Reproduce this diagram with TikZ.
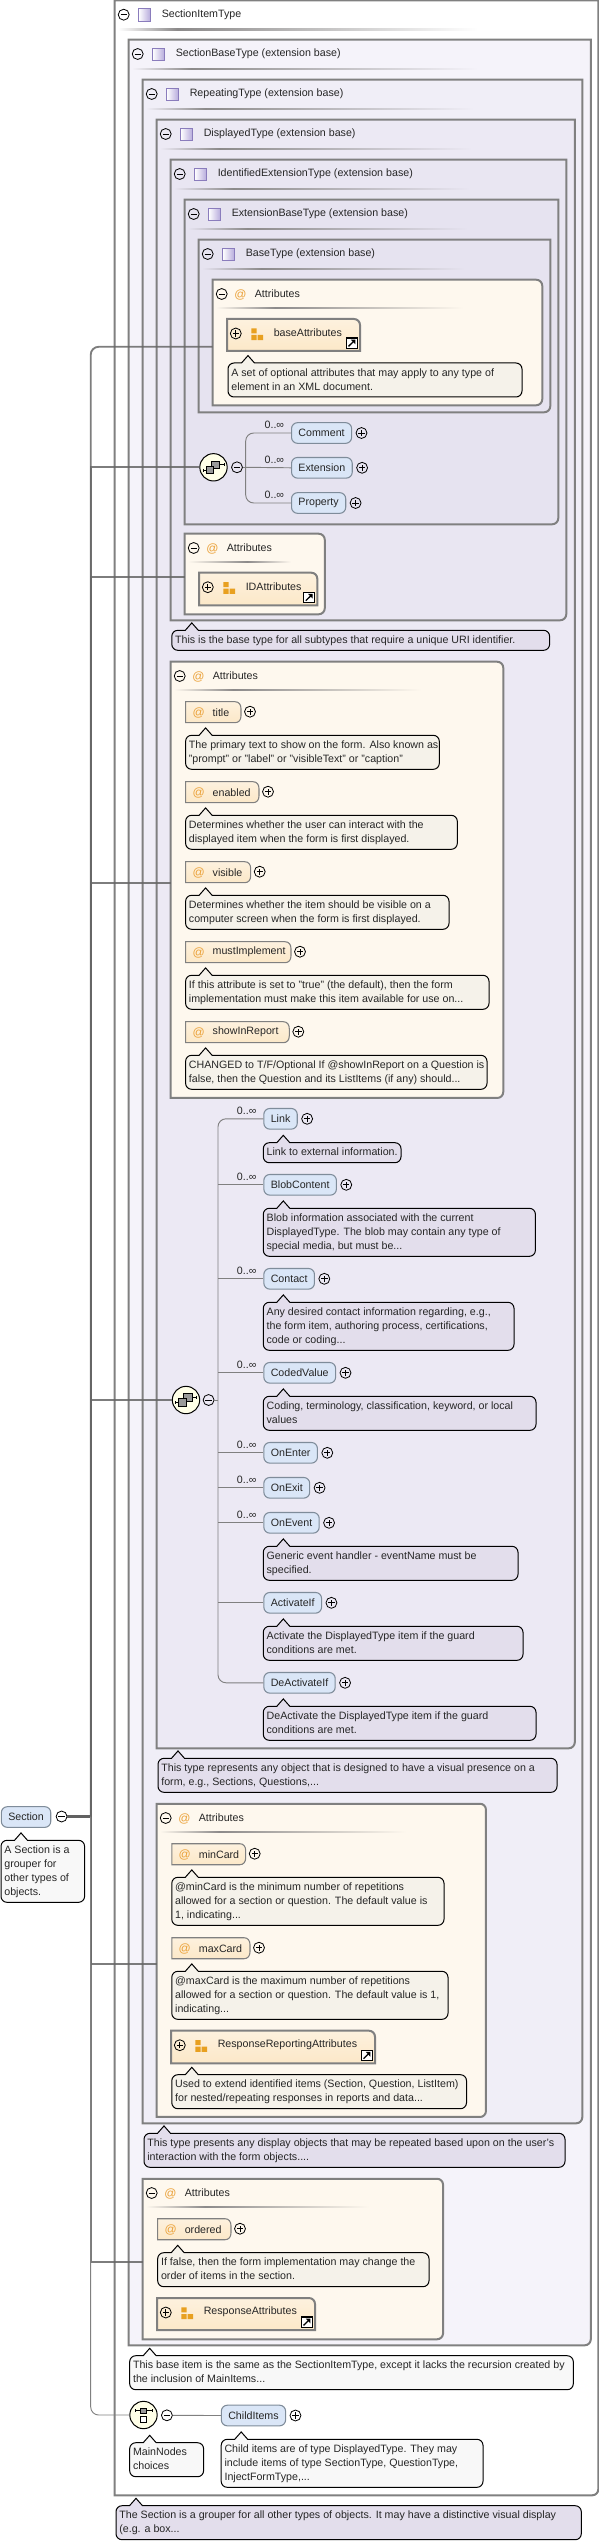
\documentclass[tikz,border=0pt]{standalone}
\usepackage{fontspec}
\setmainfont{Liberation Sans}
\usepackage{xcolor}
\usetikzlibrary{positioning}
\definecolor{typeBorder}{HTML}{808080}
\definecolor{ruleGray}{HTML}{8C8A8A}
\definecolor{level1}{HTML}{F5F3FA}
\definecolor{level2}{HTML}{F0EEF7}
\definecolor{level3}{HTML}{ECE9F4}
\definecolor{level4}{HTML}{E9E6F2}
\definecolor{level5}{HTML}{E6E3F0}
\definecolor{attrBack}{HTML}{FEF8EE}
\definecolor{attrFill}{HTML}{FCE8C8}
\definecolor{elemFill}{HTML}{DAE6F7}
\definecolor{elemBorder}{HTML}{7F8C9A}
\definecolor{docWhite}{HTML}{F8F8F8}
\definecolor{docCream}{HTML}{F5F2EA}
\definecolor{docLilac}{HTML}{E3DEEC}
\definecolor{atOrange}{HTML}{EBA23A}
\definecolor{iconOrange}{HTML}{E8A020}
\definecolor{ballFill}{HTML}{FFFFE8}
\definecolor{iconBorder}{HTML}{8A7CBC}
\definecolor{iconDeep}{HTML}{B4A8DA}
\tikzstyle{sign} = [circle, draw, line width=.6pt, minimum size=8.2pt, inner sep=0pt]
\tikzstyle{signminus} = [sign, path picture={\draw[line width=.6pt] ([xshift=-2.4pt]path picture bounding box.center) -- ([xshift=2.4pt]path picture bounding box.center);}]
\tikzstyle{signplus} = [sign, path picture={\draw[line width=.6pt] ([xshift=-2.4pt]path picture bounding box.center) -- ([xshift=2.4pt]path picture bounding box.center) ([yshift=-2.4pt]path picture bounding box.center) -- ([yshift=2.4pt]path picture bounding box.center);}]
\tikzstyle{boxline} = [draw=typeBorder, line width=1.5pt]
\tikzstyle{headtext} = [anchor=west, inner sep=0pt, text=black!85]
\tikzstyle{typeicon} = [rectangle, draw=iconBorder, line width=.7pt, minimum size=9.2pt, inner sep=0pt, shading=axis, shading angle=135, left color=white, right color=iconDeep]
\tikzstyle{atsign} = [inner sep=0pt, text=atOrange, font=\fontsize{9}{10.5}\selectfont]
\tikzstyle{element} = [rectangle, draw=elemBorder, fill=elemFill, line width=.8pt, rounded corners=4.5pt, minimum height=15.5pt, inner xsep=5.2pt, inner ysep=0pt, text=black!85]
\tikzstyle{card} = [anchor=east, inner sep=0pt, text=black!85]
\tikzstyle{doctext} = [anchor=north west, align=left, inner xsep=2.3pt, inner ysep=2.25pt, text=black!85]
\tikzstyle{docline} = [draw=black, line width=.75pt]
\tikzstyle{ball} = [circle, draw=black, line width=.75pt, fill=ballFill, minimum size=20.5pt, inner sep=0pt]
\tikzstyle{branch} = [draw=black!60, line width=1.4pt, draw opacity=.85]
\tikzstyle{thinline} = [draw=black!50, line width=.7pt]
% rule under a header row
\newcommand{\headrule}[4]{%
  \fill[left color=#4, right color=ruleGray] ({#1+3},{#3-.9}) rectangle ({#1+62},{#3+.9});
  \fill[left color=ruleGray, right color=#4] ({#1+62},{#3-.9}) rectangle (#2,{#3+.9});
}
% name, left, top, right, bottom, fill, rule end, title
\newcommand{\typebox}[8]{%
  \node(#1)[minimum width={(#4-#2)*.75pt}, minimum height={(#5-#3)*.75pt}, inner sep=0pt] at ({(#2+#4)/2},{(#3+#5)/2}){};
  \draw[boxline, fill=#6] (#1.south west) -- (#1.north west) -- (#1.north east) [rounded corners=4.5pt] -- (#1.south east) [sharp corners] -- cycle;
  \node(#1Sign)[signminus] at ({#2+8.7},{#3+14}){};
  \node(#1Icon)[typeicon] at ({#2+29.7},{#3+14.3}){};
  \node(#1Title)[headtext] at ({#2+46.5},{#3+14}){#8};
  \headrule{#2}{#7}{#3+29}{#6}
}
% name, left, top, right, bottom, rule end
\newcommand{\attrgroup}[6]{%
  \node(#1)[minimum width={(#4-#2)*.75pt}, minimum height={(#5-#3)*.75pt}, inner sep=0pt] at ({(#2+#4)/2},{(#3+#5)/2}){};
  \draw[boxline, fill=attrBack] (#1.south west) -- (#1.north west) [rounded corners=4.5pt] -- (#1.north east) -- (#1.south east) [sharp corners] -- cycle;
  \node(#1Sign)[signminus] at ({#2+8.7},{#3+14}){};
  \node(#1At)[atsign] at ({#2+27.4},{#3+14.5}){@};
  \node(#1Title)[headtext] at ({#2+41.6},{#3+14}){Attributes};
  \headrule{#2}{#6}{#3+28}{attrBack}
}
% name, left, top, right, text
\newcommand{\attrnode}[5]{%
  \draw[draw=black!50, line width=.8pt, top color=attrFill!60!white, bottom color=attrFill] (#2,#3) -- ({#4-6},#3) .. controls ({#4-2},#3) and (#4,{#3+3}) .. (#4,{#3+7}) -- (#4,{#3+14}) .. controls (#4,{#3+18}) and ({#4-2},{#3+21}) .. ({#4-6},{#3+21}) -- (#2,{#3+21}) -- cycle;
  \node(#1At)[atsign] at ({#2+13},{#3+10.8}){@};
  \node(#1)[headtext] at ({#2+26.8},{#3+10.5}){#5};
  \node(#1Sign)[signplus] at ({#4+9},{#3+10}){};
}
% name, left, top, right, bottom, text
\newcommand{\attrref}[6]{%
  \draw[boxline, top color=attrFill!60!white, bottom color=attrFill] (#2,#5) -- (#2,#3) [rounded corners=4.5pt] -- (#4,#3) [sharp corners] -- (#4,#5) -- cycle;
  \node(#1Sign)[signplus] at ({#2+8.8},{#3+14.5}){};
  \fill[iconOrange] ({#2+24.4},{#3+9.3}) rectangle ({#2+29.6},{#3+14.4}) ({#2+24.4},{#3+16}) rectangle ({#2+29.6},{#3+21.2}) ({#2+30.6},{#3+16}) rectangle ({#2+36},{#3+21.2});
  \node(#1)[headtext] at ({#2+46.5},{#3+14}){#6};
  \draw[fill=white, line width=.8pt] ({#4-13.5},{#5-13}) rectangle ({#4-2.8},{#5-2.7});
  \draw[line width=1pt] ({#4-11.5},{#5-4.6}) -- ({#4-5.4},{#5-10.6});
  \fill ({#4-4.6},{#5-11.4}) -- ({#4-9.2},{#5-11.4}) -- ({#4-4.6},{#5-6.6}) -- cycle;
}
% fill, name, left, top, right, lines, text
\newcommand{\docnote}[7]{%
  \draw[docline, fill=#1] ({#3+13.5},#4) -- ({#3+20},{#4-7.4}) -- ({#3+26.5},#4) [rounded corners=4.5pt] -- (#5,#4) -- (#5,{#4+14*#6+6}) -- (#3,{#4+14*#6+6}) -- (#3,#4) [sharp corners] -- cycle;
  \node(#2)[doctext] at (#3,#4){\strut #7\strut};
}
\newcommand{\seqball}[3]{%
  \node(#1)[ball] at (#2,#3){};
  \begin{scope}[shift={(#1.center)}]
    \draw[line width=.7pt, fill=black!40] (-2.3,-6.3) rectangle (6,1);
    \draw[line width=.7pt, fill=black!40] (-7.3,-1.3) rectangle (.4,6);
    \draw[line width=.7pt] (-10.3,2.7) -- (-7.3,2.7) (6,-3) -- (10.7,-3) (10.7,-4.5) -- (10.7,-1.5) (-10.3,1.2) -- (-10.3,4.2);
  \end{scope}
}
\begin{document}
\begin{tikzpicture}[x=.75pt, y=-.75pt, every node/.style={font=\fontsize{8}{10.5}\selectfont}]
  \useasboundingbox (0,0) rectangle (599,2543);
  % nested types
  \typebox{sectionItem}{115}{.7}{598}{2495}{white}{478}{SectionItemType}
  \typebox{sectionBase}{129}{40}{590.5}{2345}{level1}{478}{SectionBaseType (extension base)}
  \typebox{repeating}{143}{80}{582}{2123}{level2}{474}{RepeatingType (extension base)}
  \typebox{displayed}{157}{120}{574.5}{1748}{level3}{472}{DisplayedType (extension base)}
  \typebox{identified}{171}{160}{566}{620}{level4}{470}{IdentifiedExtensionType (extension base)}
  \typebox{extBase}{185}{200}{558}{524}{level5}{468}{ExtensionBaseType (extension base)}
  \typebox{baseType}{199}{240}{550}{412}{level5}{465}{BaseType (extension base)}
  % base attributes
  \attrgroup{baseAttrs}{213}{280}{542}{405}{463}
  \attrref{baseAttributes}{227}{319}{360}{351}{baseAttributes}
  \docnote{docCream}{baseAttributesDoc}{228}{363}{522}{2}{A set of optional attributes that may apply to any type of\\element in an XML document.}
  % extension choices
  \seqball{extSeq}{213.5}{467.3}
  \node(extSeqSign)[signminus] at (237,467.3){};
  \coordinate (extJoint) at (245.7,467.3);
  \foreach \elemName/\elemText/\elemY in {comment/Comment/433, extension/Extension/467.8, property/Property/503}{
    \node(\elemName)[element, anchor=west] at (291,\elemY){\elemText};
    \node(\elemName Sign)[signplus, right=2.6pt of \elemName]{};
    \node(\elemName Card)[card] at ([xshift=-5pt,yshift=6pt]\elemName.west){0..∞};
  }
  \draw[thinline] (extSeqSign) -- (extJoint);
  \draw[thinline, rounded corners=6pt] (comment.west) -| (extJoint) |- (property.west);
  \draw[thinline] (extJoint) -- (extension.west);
  % identifier attributes
  \attrgroup{idAttrs}{185}{534}{324.5}{614}{291}
  \attrref{idAttributes}{199}{572.7}{317.3}{605.3}{IDAttributes}
  \docnote{docLilac}{identifiedDoc}{171.8}{630.3}{549.6}{1}{This is the base type for all subtypes that require a unique URI identifier.}
  % displayed attributes
  \attrgroup{displayAttrs}{171}{662}{503}{1097.7}{421}
  \attrnode{title}{185.6}{701.7}{241}{title}
  \docnote{docCream}{titleDoc}{185.6}{735.3}{439.3}{2}{The primary text to show on the form. Also known as\\"prompt" or "label" or "visibleText" or "caption"}
  \attrnode{enabled}{185.6}{781.7}{259}{enabled}
  \docnote{docCream}{enabledDoc}{185.6}{815.3}{457.3}{2}{Determines whether the user can interact with the\\displayed item when the form is first displayed.}
  \attrnode{visible}{185.6}{861.7}{250.7}{visible}
  \docnote{docCream}{visibleDoc}{185.6}{895.3}{449}{2}{Determines whether the item should be visible on a\\computer screen when the form is first displayed.}
  \attrnode{mustImplement}{185.6}{941.7}{291}{mustImplement}
  \docnote{docCream}{mustImplementDoc}{185.6}{975.3}{489}{2}{If this attribute is set to "true" (the default), then the form\\implementation must make this item available for use on...}
  \attrnode{showInReport}{185.6}{1021.7}{289.3}{showInReport}
  \docnote{docCream}{showInReportDoc}{185.6}{1055.3}{487}{2}{CHANGED to T/F/Optional If @showInReport on a Question is\\false, then the Question and its ListItems (if any) should...}
  % displayed elements
  \seqball{displaySeq}{186}{1400}
  \node(displaySeqSign)[signminus] at (208.6,1400){};
  \coordinate (displayJoint) at (218,1400);
  \foreach \elemName/\elemText/\elemY in {link/Link/1118.8, blobContent/BlobContent/1184.8, contact/Contact/1278.8, codedValue/CodedValue/1372.8, onEnter/OnEnter/1452.8, onExit/OnExit/1487.8, onEvent/OnEvent/1522.8, activateIf/ActivateIf/1602.8, deActivateIf/DeActivateIf/1682.8}{
    \node(\elemName)[element, anchor=west] at (263.3,\elemY){\elemText};
    \node(\elemName Sign)[signplus, right=2.6pt of \elemName]{};
  }
  \foreach \elemName in {link, blobContent, contact, codedValue, onEnter, onExit, onEvent}{
    \node(\elemName Card)[card] at ([xshift=-5pt,yshift=6pt]\elemName.west){0..∞};
  }
  \draw[thinline] (displaySeqSign) -- (displayJoint);
  \draw[thinline, rounded corners=6pt] (link.west) -| (displayJoint) |- (deActivateIf.west);
  \foreach \elemName in {blobContent, contact, codedValue, onEnter, onExit, onEvent, activateIf}{
    \draw[thinline] (\elemName.west -| displayJoint) -- (\elemName.west);
  }
  \docnote{docLilac}{linkDoc}{263.3}{1142.7}{401}{1}{Link to external information.}
  \docnote{docLilac}{blobContentDoc}{263.3}{1208.3}{535.4}{3}{Blob information associated with the current\\DisplayedType. The blob may contain any type of\\special media, but must be...}
  \docnote{docLilac}{contactDoc}{263.3}{1302.3}{514}{3}{Any desired contact information regarding, e.g.,\\the form item, authoring process, certifications,\\code or coding...}
  \docnote{docLilac}{codedValueDoc}{263.3}{1396.3}{536}{2}{Coding, terminology, classification, keyword, or local\\values}
  \docnote{docLilac}{onEventDoc}{263.3}{1546.3}{518}{2}{Generic event handler - eventName must be\\specified.}
  \docnote{docLilac}{activateIfDoc}{263.3}{1626.3}{523}{2}{Activate the DisplayedType item if the guard\\conditions are met.}
  \docnote{docLilac}{deActivateIfDoc}{263.3}{1706.3}{536}{2}{DeActivate the DisplayedType item if the guard\\conditions are met.}
  \docnote{docLilac}{displayedDoc}{158}{1758.3}{557}{2}{This type represents any object that is designed to have a visual presence on a\\form, e.g., Sections, Questions,...}
  % repeating attributes
  \attrgroup{repeatAttrs}{157}{1804}{485.7}{2116.7}{406}
  \attrnode{minCard}{171.8}{1843.7}{245.7}{minCard}
  \docnote{docCream}{minCardDoc}{171.8}{1877.3}{444}{3}{@minCard is the minimum number of repetitions\\allowed for a section or question. The default value is\\1, indicating...}
  \attrnode{maxCard}{171.8}{1937.7}{250}{maxCard}
  \docnote{docCream}{maxCardDoc}{171.8}{1971.3}{448}{3}{@maxCard is the maximum number of repetitions\\allowed for a section or question. The default value is 1,\\indicating...}
  \attrref{reportingAttributes}{171}{2030.7}{375}{2063.3}{ResponseReportingAttributes}
  \docnote{docCream}{reportingDoc}{171.8}{2074.7}{466.5}{2}{Used to extend identified items (Section, Question, ListItem)\\for nested/repeating responses in reports and data...}
  \docnote{docLilac}{repeatingDoc}{144}{2133.3}{565}{2}{This type presents any display objects that may be repeated based upon on the user's\\interaction with the form objects....}
  % section attributes
  \attrgroup{sectionAttrs}{143}{2179}{442.8}{2339}{369}
  \attrnode{ordered}{157.7}{2218.7}{231}{ordered}
  \docnote{docCream}{orderedDoc}{157.7}{2252.7}{429}{2}{If false, then the form implementation may change the\\order of items in the section.}
  \attrref{responseAttributes}{157}{2298}{315}{2330}{ResponseAttributes}
  \docnote{docWhite}{sectionBaseDoc}{129.7}{2355.7}{573.3}{2}{This base item is the same as the SectionItemType, except it lacks the recursion created by\\the inclusion of MainItems...}
  % main nodes choice
  \node(choiceBall)[ball] at (143.5,2415){};
  \begin{scope}[shift={(choiceBall.center)}]
    \draw[line width=.7pt, fill=black!40] (-3,-7) rectangle (3.4,-1.7);
    \draw[line width=.7pt, fill=white] (-3,1.7) rectangle (3.4,7.7);
    \draw[line width=.7pt] (-8.4,-4.4) -- (-3,-4.4) (3.4,-4.4) -- (8.8,-4.4) (-8.4,-6) -- (-8.4,-2.8) (8.8,-6) -- (8.8,-2.8);
  \end{scope}
  \node(choiceSign)[signminus] at (166.9,2415.3){};
  \node(childItems)[element, anchor=west] at (220.8,2415.5){ChildItems};
  \node(childItemsSign)[signplus, right=2.6pt of childItems]{};
  \draw[thinline] (choiceSign) -- (childItems.west);
  \docnote{docWhite}{choiceDoc}{129.7}{2442.7}{203.6}{2}{MainNodes\\choices}
  \docnote{docWhite}{childItemsDoc}{221.2}{2439.3}{483}{3}{Child items are of type DisplayedType. They may\\include items of type SectionType, QuestionType,\\InjectFormType,...}
  \docnote{docLilac}{sectionItemDoc}{116}{2505.7}{581.3}{2}{The Section is a grouper for all other types of objects. It may have a distinctive visual display\\(e.g. a box...}
  % root element
  \node(section)[element, anchor=west] at (.8,1817){Section};
  \node(sectionSign)[signminus] at (61.6,1816.5){};
  \docnote{docWhite}{sectionDoc}{1}{1840.3}{84.6}{4}{A Section is a\\grouper for\\other types of\\objects.}
  \coordinate (trunk) at (90.7,1816.5);
  \coordinate (baseIn) at ([yshift=-3.2pt]baseAttrs.west);
  \coordinate (idIn) at ([yshift=-2.5pt]idAttrs.west);
  \coordinate (displayIn) at ([yshift=-2.3pt]displayAttrs.west);
  \coordinate (repeatIn) at ([yshift=-3pt]repeatAttrs.west);
  \coordinate (sectionIn) at ([yshift=-2.3pt]sectionAttrs.west);
  \draw[line width=2pt, draw=black!62] (sectionSign) -- (trunk);
  \draw[branch, rounded corners=6pt] (trunk) |- (baseIn);
  \foreach \branchEnd in {extSeq, idIn, displayIn, displaySeq, repeatIn, sectionIn}{
    \draw[branch] (trunk) |- (\branchEnd);
  }
  \draw[thinline, rounded corners=6pt] (trunk) |- (choiceBall);
\end{tikzpicture}
\end{document}
